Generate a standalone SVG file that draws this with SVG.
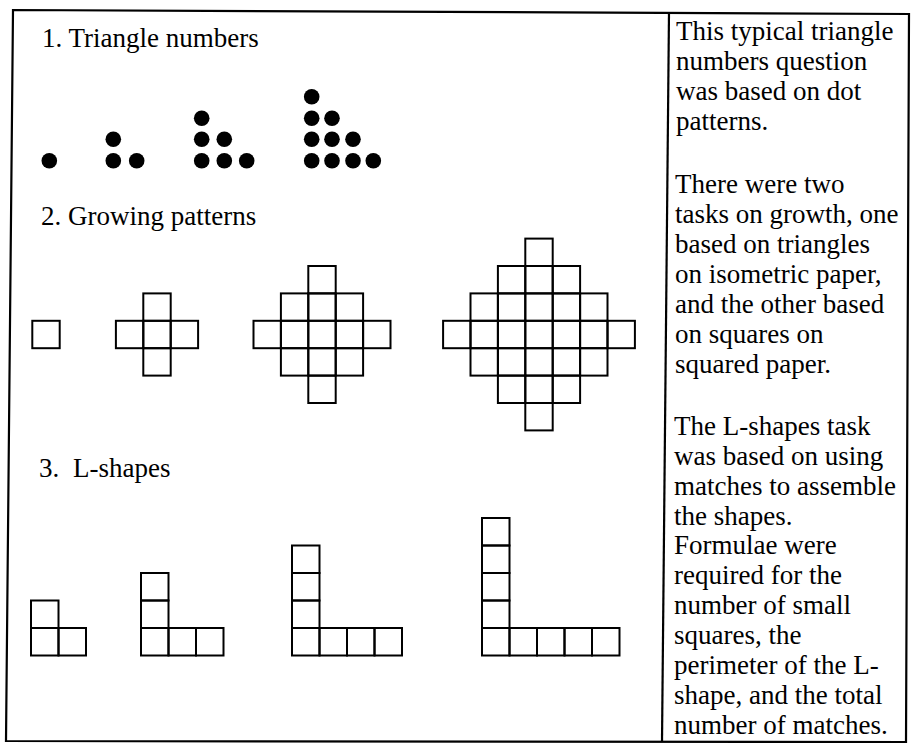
<svg xmlns="http://www.w3.org/2000/svg" width="911" height="743" viewBox="0 0 911 743">
<style>
.t{font-family:"Liberation Serif","Times New Roman",serif;font-size:27px;fill:#000}
.cell{fill:none;stroke:#000;stroke-width:2}
.dot{fill:#000}
.frame{fill:none;stroke:#000;stroke-width:2.2}
</style>
<rect width="911" height="743" fill="#fff"/>
<g id="frame">
<path class="frame" d="M13,10 L909,14 L906,742 L6,741 Z"/>
<path class="frame" d="M669,12 L662,742"/>
</g>
<g id="section1">
<text class="t" x="42" y="47">1. Triangle numbers</text>
<g id="dots1"><circle class="dot" cx="49.3" cy="160.7" r="7.8"/></g>
<g id="dots2">
<circle class="dot" cx="113.3" cy="160.7" r="7.8"/><circle class="dot" cx="136.7" cy="160.7" r="7.8"/>
<circle class="dot" cx="113.3" cy="139.3" r="7.8"/>
</g>
<g id="dots3">
<circle class="dot" cx="201.7" cy="160.7" r="7.8"/><circle class="dot" cx="224.3" cy="160.7" r="7.8"/><circle class="dot" cx="246.7" cy="160.7" r="7.8"/>
<circle class="dot" cx="201.7" cy="139.3" r="7.8"/><circle class="dot" cx="224.3" cy="139.3" r="7.8"/>
<circle class="dot" cx="201.7" cy="118.3" r="7.8"/>
</g>
<g id="dots4">
<circle class="dot" cx="311.7" cy="160.7" r="7.8"/><circle class="dot" cx="332" cy="160.7" r="7.8"/><circle class="dot" cx="353" cy="160.7" r="7.8"/><circle class="dot" cx="373.3" cy="160.7" r="7.8"/>
<circle class="dot" cx="311.7" cy="139.3" r="7.8"/><circle class="dot" cx="332" cy="139.3" r="7.8"/><circle class="dot" cx="353" cy="139.3" r="7.8"/>
<circle class="dot" cx="311.7" cy="118.3" r="7.8"/><circle class="dot" cx="332" cy="118.3" r="7.8"/>
<circle class="dot" cx="311.7" cy="96.7" r="7.8"/>
</g>
</g>
<g id="section2">
<text class="t" x="41" y="225">2. Growing patterns</text>
<g id="grow1"><rect class="cell" x="32.3" y="320.8" width="27.4" height="27.4"/></g>
<g id="grow2">
<rect class="cell" x="143.3" y="293.4" width="27.4" height="27.4"/>
<rect class="cell" x="115.9" y="320.8" width="27.4" height="27.4"/>
<rect class="cell" x="143.3" y="320.8" width="27.4" height="27.4"/>
<rect class="cell" x="170.7" y="320.8" width="27.4" height="27.4"/>
<rect class="cell" x="143.3" y="348.2" width="27.4" height="27.4"/>
</g>
<g id="grow3">
<rect class="cell" x="308.3" y="266" width="27.4" height="27.4"/>
<rect class="cell" x="280.9" y="293.4" width="27.4" height="27.4"/>
<rect class="cell" x="308.3" y="293.4" width="27.4" height="27.4"/>
<rect class="cell" x="335.7" y="293.4" width="27.4" height="27.4"/>
<rect class="cell" x="253.5" y="320.8" width="27.4" height="27.4"/>
<rect class="cell" x="280.9" y="320.8" width="27.4" height="27.4"/>
<rect class="cell" x="308.3" y="320.8" width="27.4" height="27.4"/>
<rect class="cell" x="335.7" y="320.8" width="27.4" height="27.4"/>
<rect class="cell" x="363.1" y="320.8" width="27.4" height="27.4"/>
<rect class="cell" x="280.9" y="348.2" width="27.4" height="27.4"/>
<rect class="cell" x="308.3" y="348.2" width="27.4" height="27.4"/>
<rect class="cell" x="335.7" y="348.2" width="27.4" height="27.4"/>
<rect class="cell" x="308.3" y="375.6" width="27.4" height="27.4"/>
</g>
<g id="grow4">
<rect class="cell" x="525.3" y="238.6" width="27.4" height="27.4"/>
<rect class="cell" x="497.9" y="266" width="27.4" height="27.4"/>
<rect class="cell" x="525.3" y="266" width="27.4" height="27.4"/>
<rect class="cell" x="552.7" y="266" width="27.4" height="27.4"/>
<rect class="cell" x="470.5" y="293.4" width="27.4" height="27.4"/>
<rect class="cell" x="497.9" y="293.4" width="27.4" height="27.4"/>
<rect class="cell" x="525.3" y="293.4" width="27.4" height="27.4"/>
<rect class="cell" x="552.7" y="293.4" width="27.4" height="27.4"/>
<rect class="cell" x="580.1" y="293.4" width="27.4" height="27.4"/>
<rect class="cell" x="443.1" y="320.8" width="27.4" height="27.4"/>
<rect class="cell" x="470.5" y="320.8" width="27.4" height="27.4"/>
<rect class="cell" x="497.9" y="320.8" width="27.4" height="27.4"/>
<rect class="cell" x="525.3" y="320.8" width="27.4" height="27.4"/>
<rect class="cell" x="552.7" y="320.8" width="27.4" height="27.4"/>
<rect class="cell" x="580.1" y="320.8" width="27.4" height="27.4"/>
<rect class="cell" x="607.5" y="320.8" width="27.4" height="27.4"/>
<rect class="cell" x="470.5" y="348.2" width="27.4" height="27.4"/>
<rect class="cell" x="497.9" y="348.2" width="27.4" height="27.4"/>
<rect class="cell" x="525.3" y="348.2" width="27.4" height="27.4"/>
<rect class="cell" x="552.7" y="348.2" width="27.4" height="27.4"/>
<rect class="cell" x="580.1" y="348.2" width="27.4" height="27.4"/>
<rect class="cell" x="497.9" y="375.6" width="27.4" height="27.4"/>
<rect class="cell" x="525.3" y="375.6" width="27.4" height="27.4"/>
<rect class="cell" x="552.7" y="375.6" width="27.4" height="27.4"/>
<rect class="cell" x="525.3" y="403" width="27.4" height="27.4"/>
</g>
</g>
<g id="section3">
<text class="t" x="39" y="477">3.<tspan x="73">L-shapes</tspan></text>
<g id="L1">
<rect class="cell" x="31" y="600.5" width="27.5" height="27.5"/>
<rect class="cell" x="31" y="628" width="27.5" height="27.5"/>
<rect class="cell" x="58.5" y="628" width="27.5" height="27.5"/>
</g>
<g id="L2">
<rect class="cell" x="141" y="573" width="27.5" height="27.5"/>
<rect class="cell" x="141" y="600.5" width="27.5" height="27.5"/>
<rect class="cell" x="141" y="628" width="27.5" height="27.5"/>
<rect class="cell" x="168.5" y="628" width="27.5" height="27.5"/>
<rect class="cell" x="196" y="628" width="27.5" height="27.5"/>
</g>
<g id="L3">
<rect class="cell" x="292" y="545.5" width="27.5" height="27.5"/>
<rect class="cell" x="292" y="573" width="27.5" height="27.5"/>
<rect class="cell" x="292" y="600.5" width="27.5" height="27.5"/>
<rect class="cell" x="292" y="628" width="27.5" height="27.5"/>
<rect class="cell" x="319.5" y="628" width="27.5" height="27.5"/>
<rect class="cell" x="347" y="628" width="27.5" height="27.5"/>
<rect class="cell" x="374.5" y="628" width="27.5" height="27.5"/>
</g>
<g id="L4">
<rect class="cell" x="482" y="518" width="27.5" height="27.5"/>
<rect class="cell" x="482" y="545.5" width="27.5" height="27.5"/>
<rect class="cell" x="482" y="573" width="27.5" height="27.5"/>
<rect class="cell" x="482" y="600.5" width="27.5" height="27.5"/>
<rect class="cell" x="482" y="628" width="27.5" height="27.5"/>
<rect class="cell" x="509.5" y="628" width="27.5" height="27.5"/>
<rect class="cell" x="537" y="628" width="27.5" height="27.5"/>
<rect class="cell" x="564.5" y="628" width="27.5" height="27.5"/>
<rect class="cell" x="592" y="628" width="27.5" height="27.5"/>
</g>
</g>
<g id="notes">
<text class="t">
<tspan x="676" y="40">This typical triangle</tspan>
<tspan x="676" y="70">numbers question</tspan>
<tspan x="676" y="100">was based on dot</tspan>
<tspan x="676" y="130">patterns.</tspan>
<tspan x="675" y="193">There were two</tspan>
<tspan x="675" y="223">tasks on growth, one</tspan>
<tspan x="675" y="253">based on triangles</tspan>
<tspan x="675" y="283">on isometric paper,</tspan>
<tspan x="675" y="313">and the other based</tspan>
<tspan x="675" y="343">on squares on</tspan>
<tspan x="675" y="373">squared paper.</tspan>
<tspan x="674" y="435">The L-shapes task</tspan>
<tspan x="674" y="465">was based on using</tspan>
<tspan x="674" y="494.5">matches to assemble</tspan>
<tspan x="674" y="524.5">the shapes.</tspan>
<tspan x="674" y="554">Formulae were</tspan>
<tspan x="674" y="584">required for the</tspan>
<tspan x="674" y="614">number of small</tspan>
<tspan x="674" y="644">squares, the</tspan>
<tspan x="674" y="674">perimeter of the L-</tspan>
<tspan x="674" y="704">shape, and the total</tspan>
<tspan x="674" y="734">number of matches.</tspan>
</text>
</g>
</svg>
